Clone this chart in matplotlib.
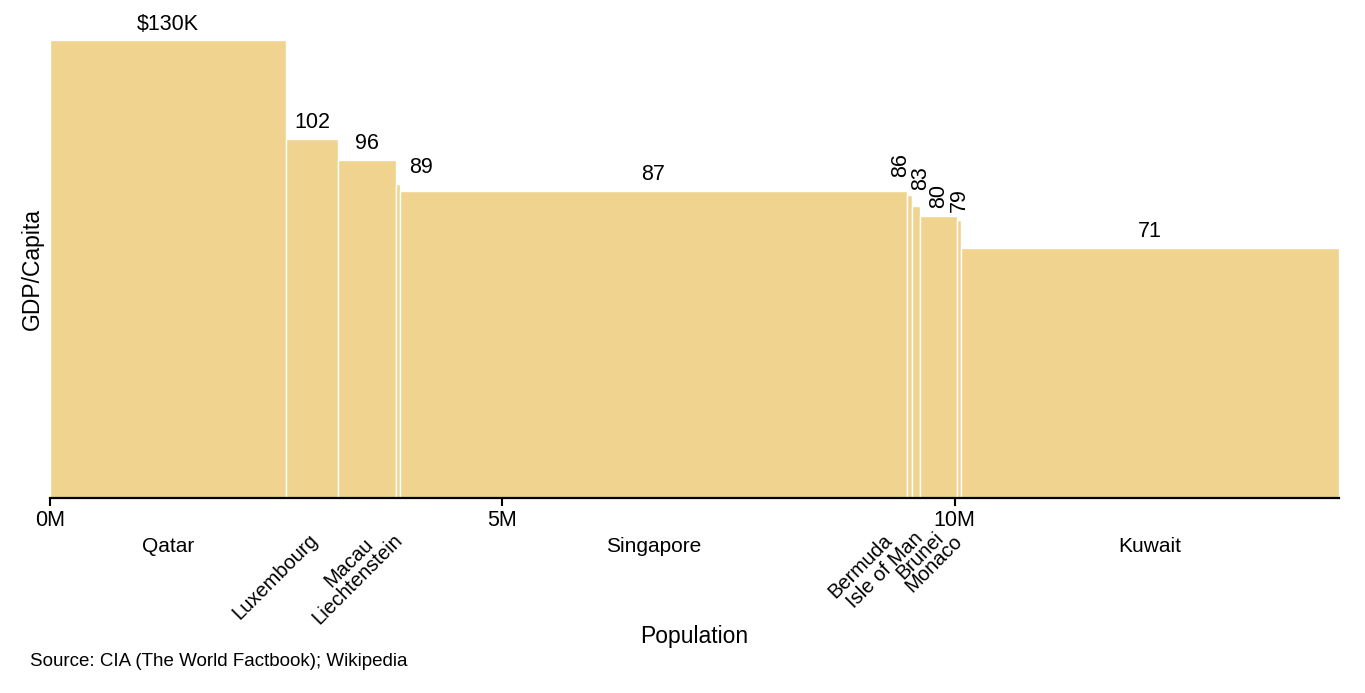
import matplotlib
matplotlib.use("Agg")
import matplotlib.pyplot as plt
import numpy as np

plt.rcParams['font.family'] = ['Liberation Sans', 'DejaVu Sans']

countries = ["Qatar", "Luxembourg", "Macau", "Liechtenstein", "Singapore",
             "Bermuda", "Isle of Man", "Brunei", "Monaco", "Kuwait"]
population_m = [2.61, 0.57, 0.65, 0.038, 5.60, 0.064, 0.083, 0.415, 0.038, 4.18]
gdp_k = [130, 102, 96, 89, 87, 86, 83, 80, 79, 71]
value_labels = ["$130K", "102", "96", "89", "87", "86", "83", "80", "79", "71"]
xtick_vals = [0, 5, 10]
xtick_labels = ["0M", "5M", "10M"]

# label styling (offsets in pixels)
value_rot = [0, 0, 0, 0, 0, 90, 90, 90, 90, 0]
value_dx = [0, 0, 0, 23, 0, -9, 5, 0, 0, 0]
value_dy = [10, 11, 11, 11, 11, 18, 16, 8, 8, 11]
cat_rot = [0, 45, 45, 45, 0, 45, 45, 45, 45, 0]
cat_dx = [0, -4, -4, -5, 0, -27, -3, -5, -7, 0]
cat_dy = [-48, -32, -37, -32, -48, -33, -31, -30, -34, -48]

color = "#f0d38e"

fig = plt.figure(figsize=(13.65, 6.93), dpi=100)
ax = fig.add_axes([50/1365, (693-498)/693, 1289/1365, 458/693])

widths = np.array(population_m)
lefts = np.concatenate([[0], np.cumsum(widths)[:-1]])
centers = lefts + widths / 2

ax.bar(lefts, gdp_k, width=widths, align='edge', color=color,
       edgecolor='white', linewidth=1.0)

ax.set_xlim(0, widths.sum())
ax.set_ylim(0, 130)

for i in range(len(countries)):
    if value_rot[i] == 90:
        ax.annotate(value_labels[i], xy=(centers[i], gdp_k[i]),
                    xytext=(value_dx[i], value_dy[i]), textcoords='offset pixels',
                    rotation=90, rotation_mode='anchor', ha='left', va='center',
                    fontsize=15.5, annotation_clip=False)
    else:
        ax.annotate(value_labels[i], xy=(centers[i], gdp_k[i]),
                    xytext=(value_dx[i], value_dy[i]), textcoords='offset pixels',
                    ha='center', va='baseline', fontsize=15.5, annotation_clip=False)

trans = ax.get_xaxis_transform()
for i in range(len(countries)):
    if cat_rot[i] == 0:
        ax.annotate(countries[i], xy=(centers[i], 0), xycoords=trans,
                    xytext=(cat_dx[i], cat_dy[i]), textcoords='offset pixels',
                    ha='center', va='center', fontsize=15, annotation_clip=False)
    else:
        ax.annotate(countries[i], xy=(centers[i], 0), xycoords=trans,
                    xytext=(cat_dx[i], cat_dy[i]), textcoords='offset pixels',
                    rotation=45, rotation_mode='anchor', ha='right', va='top',
                    fontsize=14.5, annotation_clip=False)

ax.set_xticks(xtick_vals)
ax.set_xticklabels(xtick_labels, fontsize=15.5)
ax.tick_params(axis='x', length=6, width=1.5, pad=3, color='black')
ax.set_yticks([])

for s in ['top', 'right', 'left']:
    ax.spines[s].set_visible(False)
ax.spines['bottom'].set_linewidth(1.6)

fig.text(694/1365, 1 - 636/693, "Population", ha='center', va='center', fontsize=16.5)
fig.text(32/1365, 1 - 269/693, "GDP/Capita", ha='center', va='center', rotation=90, fontsize=16.5)
fig.text(30/1365, 1 - 662/693, "Source: CIA (The World Factbook); Wikipedia",
         ha='left', va='center', fontsize=13.5)

fig.savefig("out.png", dpi=100)
